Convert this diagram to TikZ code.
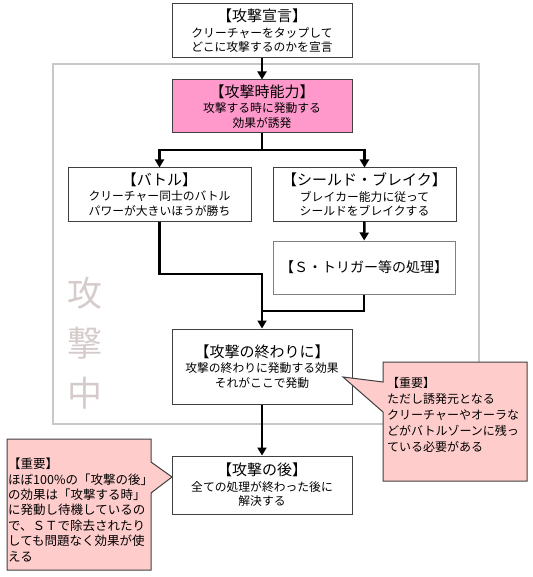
\documentclass[tikz,border=0pt]{standalone}
\usepackage{fontspec}
\setmainfont{Noto Sans CJK JP}
\usetikzlibrary{arrows.meta}
\definecolor{pinkbox}{RGB}{255,153,204}
\definecolor{calloutfill}{RGB}{255,204,204}
\definecolor{framegray}{RGB}{200,200,200}
\definecolor{wmcolor}{RGB}{214,203,203}
\definecolor{bord}{RGB}{64,64,64}
\newcommand{\ttl}[1]{{\fontsize{15}{18}\selectfont #1}}
\begin{document}
\begin{tikzpicture}[x=1pt,y=-1pt,
  box/.style={draw=bord, line width=1pt, fill=white, minimum width=180pt, minimum height=54pt, inner sep=0pt, align=center, font=\fontsize{11.8}{14.5}\selectfont},
  flow/.style={line width=2.5pt, draw=black},
  arr/.style={flow, -{Triangle[length=8pt,width=9pt]}},
  note/.style={draw=bord, line width=1pt, fill=calloutfill, line join=miter},
  notetext/.style={inner sep=0pt, anchor=north west, align=left, font=\fontsize{12}{16}\selectfont}]
\useasboundingbox (0,0) rectangle (532,577);
% frame
\draw[framegray, line width=1.5pt] (53,64) rectangle (479,424);
\node[text=wmcolor, font=\fontsize{35}{50}\selectfont, align=center, inner sep=0pt] (wm) at (85,343) {攻\\撃\\中};
% boxes
\node[box] (decl) at (262,31) {\ttl{【攻撃宣言】}\\[1pt] クリーチャーをタップして\\ どこに攻撃するのかを宣言};
\node[box, fill=pinkbox, minimum height=53pt] (trig) at (262,106.5) {\ttl{【攻撃時能力】}\\[1pt] 攻撃する時に発動する\\ 効果が誘発};
\node[box, minimum width=183pt, minimum height=53pt] (battle) at (159.5,194.5) {\ttl{【バトル】}\\[1pt] クリーチャー同士のバトル\\ パワーが大きいほうが勝ち};
\node[box, minimum width=183pt, minimum height=53pt] (shield) at (364.5,194.5) {\ttl{【シールド・ブレイク】}\\[1pt] ブレイカー能力に従って\\ シールドをブレイクする};
\node[box, draw=gray, minimum width=182pt, minimum height=53pt] (strig) at (364,267.5) {{\fontsize{14}{17}\selectfont 【Ｓ・トリガー等の処理】}};
\node[box, minimum height=75pt] (endb) at (262,366.5) {\ttl{【攻撃の終わりに】}\\[1pt] 攻撃の終わりに発動する効果\\ それがここで発動};
\node[box, minimum height=58pt] (after) at (262,485) {\ttl{【攻撃の後】}\\[1pt] 全ての処理が終わった後に\\ 解決する};
% connectors
\coordinate (split) at (262,150);
\coordinate (j1) at (262,274);
\coordinate (j2) at (262,311);
\draw[arr] (decl) -- (trig);
\draw[flow] (trig.south) -- (split);
\draw[arr] (split) -| (battle.north);
\draw[arr] (split) -| (shield.north);
\draw[arr] (shield) -- (strig);
\draw[arr, line join=miter] (battle.south) |- (j1) -- (endb.north);
\draw[flow, line join=miter] (strig.south) |- (j2);
\draw[arr] (endb) -- (after);
% callouts
\draw[note] (383,362) -- (527,362) -- (527,481) -- (383,481) -- (383,412) -- (343,377) -- (383,382) -- cycle;
\node[notetext] (n1) at (387,377) {【重要】\\ ただし誘発元となる\\ クリーチャーやオーラな\\ どがバトルゾーンに残っ\\ ている必要がある};
\draw[note] (7,439) -- (151,439) -- (151,462) -- (172,477) -- (151,493) -- (151,570) -- (7,570) -- cycle;
\node[notetext, font=\fontsize{12.5}{15.4}\selectfont] (n2) at (8,458) {【重要】\\ ほぼ100\%の「攻撃の後」\\ の効果は「攻撃する時」\\ に発動し待機しているの\\ で、ＳＴで除去されたり\\ しても問題なく効果が使\\ える};
\end{tikzpicture}
\end{document}
